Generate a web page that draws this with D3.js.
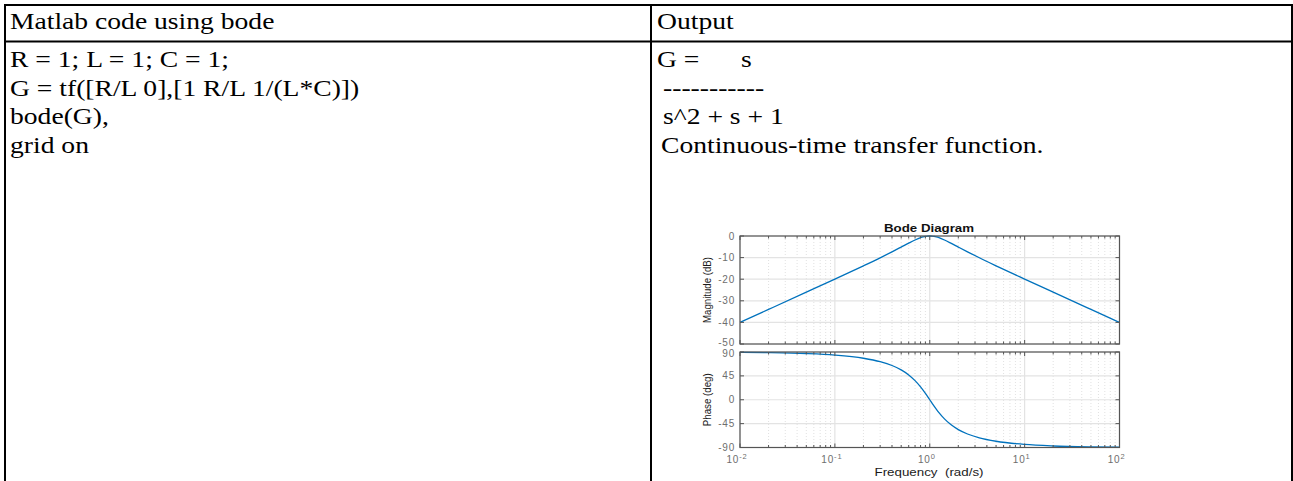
<!DOCTYPE html>
<html>
<head>
<meta charset="utf-8">
<script src="https://cdn.jsdelivr.net/npm/d3@7"></script>
<style>
  body { margin: 0; background: #fff; }
</style>
</head>
<body>
<div id="page"></div>
<script>
// table text
const headers = ["Matlab code using bode", "Output"];
const codeRows = ["R = 1; L = 1; C = 1;", "G = tf([R/L 0],[1 R/L 1/(L*C)])", "bode(G),", "grid on"];
const outputRows = ["G =", "-----------", "s^2 + s + 1", "Continuous-time transfer function."];
const numerator = "s";

// bode data
const freq = [0.01, 0.02, 0.05, 0.1, 0.2, 0.3, 0.4, 0.5, 0.6, 0.7, 0.8, 0.85, 0.9, 0.95, 1,
              1.053, 1.111, 1.176, 1.25, 1.429, 1.667, 2, 2.5, 3.333, 5, 10, 20, 50, 100];
const magDb = [-40.0, -33.98, -26.01, -19.96, -13.81, -10.09, -7.33, -5.12, -3.30, -1.85, -0.80, -0.44, -0.19, -0.05, 0,
               -0.05, -0.19, -0.44, -0.80, -1.85, -3.30, -5.12, -7.33, -10.09, -13.81, -19.96, -26.01, -33.98, -40.0];
const phaseDeg = [89.43, 88.85, 87.13, 84.23, 78.23, 71.75, 64.54, 56.31, 46.85, 36.08, 24.23, 18.08, 11.92, 5.86, 0,
                  -5.86, -11.92, -18.08, -24.23, -36.08, -46.85, -56.31, -64.54, -71.75, -78.23, -84.23, -87.13, -88.85, -89.43];

const magTicks = [0, -10, -20, -30, -40, -50];
const phaseTicks = [90, 45, 0, -45, -90];
const decadeExps = [-2, -1, 0, 1, 2];

const W = 1293, H = 481;
const svg = d3.select("#page").append("svg")
    .attr("width", W)
    .attr("height", H)
    .style("display", "block");

// ---------- table ----------
// the document text looks a bit wide, so stretch it slightly
const serif = "'Liberation Serif', 'Times New Roman', serif";
const stretch = 1.15;
const headerBase = 29;
const rowBase = [67, 96, 124, 153];

const table = svg.append("g").attr("font-family", serif).attr("font-size", "24px").attr("fill", "#000");

function cell(x, y, txt) {
    table.append("text")
        .attr("transform", `translate(${x},${y}) scale(${stretch},1)`)
        .attr("xml:space", "preserve")
        .text(txt);
}

cell(10, headerBase, headers[0]);
cell(657, headerBase, headers[1]);
codeRows.forEach((t, i) => cell(10, rowBase[i], t));
const outX = [657, 663, 663, 661];
outputRows.forEach((t, i) => cell(outX[i], rowBase[i], t));
cell(741, rowBase[0], numerator);

// borders
const border = svg.append("g").attr("stroke", "#000").attr("stroke-width", 2);
border.append("line").attr("x1", 4).attr("x2", W).attr("y1", 5).attr("y2", 5);
border.append("line").attr("x1", 4).attr("x2", W).attr("y1", 41.5).attr("y2", 41.5);
border.append("line").attr("x1", 5).attr("x2", 5).attr("y1", 4).attr("y2", H);
border.append("line").attr("x1", 651).attr("x2", 651).attr("y1", 4).attr("y2", H);
border.append("line").attr("x1", 1292).attr("x2", 1292).attr("y1", 4).attr("y2", H);

// ---------- bode plot ----------
const sans = "'Liberation Sans', Arial, Helvetica, sans-serif";
const x = d3.scaleLog().domain([0.01, 100]).range([740, 1119.5]);
const yMag = d3.scaleLinear().domain([-50, 0]).range([344, 236]);
const yPh = d3.scaleLinear().domain([-90, 90]).range([447.5, 352]);

const minorF = [];
decadeExps.slice(0, -1).forEach(e => {
    for (let k = 2; k <= 9; k++) minorF.push(k * Math.pow(10, e));
});
const majorF = decadeExps.map(e => Math.pow(10, e));

function panel(yScale, ticks, values, label, labelLen, labelShift) {
    const g = svg.append("g");
    const [y0, y1] = yScale.range(); // bottom, top
    const xl = x.range()[0], xr = x.range()[1];

    // minor grid
    g.selectAll("line.mg").data(minorF).enter().append("line")
        .attr("x1", d => x(d)).attr("x2", d => x(d))
        .attr("y1", y1).attr("y2", y0)
        .attr("stroke", "#d9d9d9").attr("stroke-width", 0.8)
        .attr("stroke-dasharray", "1,2");
    // major grid
    g.selectAll("line.vg").data(majorF).enter().append("line")
        .attr("x1", d => x(d)).attr("x2", d => x(d))
        .attr("y1", y1).attr("y2", y0)
        .attr("stroke", "#e3e3e3").attr("stroke-width", 1.2);
    g.selectAll("line.hg").data(ticks).enter().append("line")
        .attr("x1", xl).attr("x2", xr)
        .attr("y1", d => yScale(d)).attr("y2", d => yScale(d))
        .attr("stroke", "#e3e3e3").attr("stroke-width", 1.2);

    // curve
    const line = d3.line()
        .x((d, i) => x(freq[i]))
        .y(d => yScale(d))
        .curve(d3.curveMonotoneX);
    g.append("path")
        .datum(values)
        .attr("d", line)
        .attr("fill", "none")
        .attr("stroke", "#0072BD")
        .attr("stroke-width", 1.3);

    // box
    g.append("rect")
        .attr("x", xl).attr("y", y1)
        .attr("width", xr - xl).attr("height", y0 - y1)
        .attr("fill", "none").attr("stroke", "#555").attr("stroke-width", 1.2);

    // ticks inside
    const tk = g.append("g").attr("stroke", "#555").attr("stroke-width", 1);
    ticks.forEach(t => {
        tk.append("line").attr("x1", xl).attr("x2", xl + 4).attr("y1", yScale(t)).attr("y2", yScale(t));
        tk.append("line").attr("x1", xr).attr("x2", xr - 4).attr("y1", yScale(t)).attr("y2", yScale(t));
    });
    minorF.forEach(f => {
        tk.append("line").attr("x1", x(f)).attr("x2", x(f)).attr("y1", y0).attr("y2", y0 - 2.5);
        tk.append("line").attr("x1", x(f)).attr("x2", x(f)).attr("y1", y1).attr("y2", y1 + 2.5);
    });
    majorF.forEach(f => {
        tk.append("line").attr("x1", x(f)).attr("x2", x(f)).attr("y1", y0).attr("y2", y0 - 4);
        tk.append("line").attr("x1", x(f)).attr("x2", x(f)).attr("y1", y1).attr("y2", y1 + 4);
    });

    // y tick labels
    g.selectAll("text.yt").data(ticks).enter().append("text")
        .attr("x", xl - 5)
        .attr("y", d => yScale(d) + 3.5 + (labelShift[d] || 0))
        .attr("text-anchor", "end")
        .attr("font-family", sans)
        .attr("font-size", "10px")
        .attr("letter-spacing", "0.8px")
        .attr("fill", "#6e6e6e")
        .text(d => d);

    // y label
    const cy = (y0 + y1) / 2;
    g.append("text")
        .attr("transform", `translate(711,${cy}) rotate(-90)`)
        .attr("text-anchor", "middle")
        .attr("font-family", sans)
        .attr("font-size", "10.5px")
        .attr("fill", "#1a1a1a")
        .attr("textLength", labelLen)
        .attr("lengthAdjust", "spacingAndGlyphs")
        .text(label);
    return g;
}

panel(yMag, magTicks, magDb, "Magnitude (dB)", 66, { "-50": -1.5 });
const gp = panel(yPh, phaseTicks, phaseDeg, "Phase (deg)", 53, { "90": 1 });

// x tick labels (bottom panel only)
const xt = gp.selectAll("text.xt").data(decadeExps).enter().append("text")
    .attr("x", d => x(Math.pow(10, d)) - 3)
    .attr("y", 463)
    .attr("text-anchor", "middle")
    .attr("font-family", sans)
    .attr("font-size", "10px")
    .attr("letter-spacing", "0.8px")
    .attr("fill", "#6e6e6e");
xt.append("tspan").text("10");
xt.append("tspan").attr("dy", -4.5).attr("font-size", "7.5px").text(d => d);

// x label
svg.append("text")
    .attr("x", 929)
    .attr("y", 475.5)
    .attr("text-anchor", "middle")
    .attr("font-family", sans)
    .attr("font-size", "10.5px")
    .attr("fill", "#1a1a1a")
    .attr("textLength", 109)
    .attr("lengthAdjust", "spacingAndGlyphs")
    .attr("xml:space", "preserve")
    .text("Frequency  (rad/s)");

// title
svg.append("text")
    .attr("x", 929)
    .attr("y", 232)
    .attr("text-anchor", "middle")
    .attr("font-family", sans)
    .attr("font-size", "10.5px")
    .attr("font-weight", "bold")
    .attr("fill", "#111")
    .attr("textLength", 90)
    .attr("lengthAdjust", "spacingAndGlyphs")
    .text("Bode Diagram");
</script>
</body>
</html>
